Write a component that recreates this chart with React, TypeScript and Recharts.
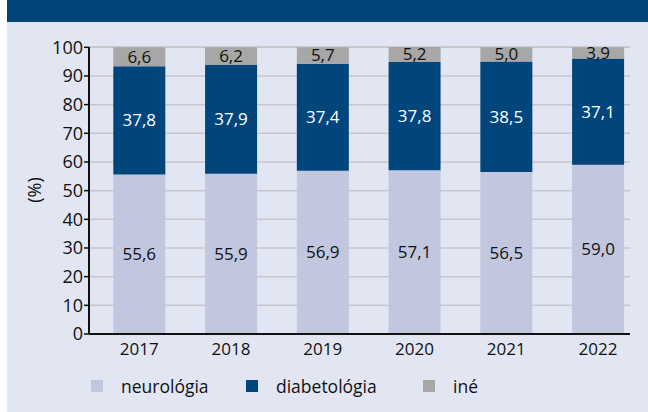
import { BarChart, Bar, XAxis, YAxis, CartesianGrid, LabelList } from 'recharts';

const years = [2017, 2018, 2019, 2020, 2021, 2022];
const neurologia = [55.6, 55.9, 56.9, 57.1, 56.5, 59.0];
const diabetologia = [37.8, 37.9, 37.4, 37.8, 38.5, 37.1];
const ine = [6.6, 6.2, 5.7, 5.2, 5.0, 3.9];
const yTicks = [0, 10, 20, 30, 40, 50, 60, 70, 80, 90, 100];

const data = years.map((year, i) => ({
  year,
  neurologia: neurologia[i],
  diabetologia: diabetologia[i],
  ine: ine[i],
}));

const FONT = '"Open Sans", "Noto Sans", sans-serif';
const fmt = (v: any) => Number(v).toFixed(1).replace('.', ',');

const legend = [
  { name: 'neurológia', color: '#c0c7df', x: 91 },
  { name: 'diabetológia', color: '#00457c', x: 246 },
  { name: 'iné', color: '#a7a7a7', x: 423 },
];

export default function App() {
  return (
    <div style={{ position: 'absolute', left: 0, top: 0, width: 648, height: 412, background: '#fff', fontFamily: FONT }}>
      <div style={{ position: 'absolute', left: 7, top: 0, width: 641, height: 22, background: '#00447a' }} />
      <div style={{ position: 'absolute', left: 7, top: 22, width: 641, height: 390, background: '#e2e6f2' }} />
      <div style={{ position: 'absolute', left: 0, top: 0 }}>
        <BarChart width={648} height={412} data={data} margin={{ top: 47, right: 18, bottom: 48, left: 29 }}>
          <CartesianGrid vertical={false} stroke="#c6c7cc" strokeWidth={1.5} />
          <XAxis
            dataKey="year"
            type="number"
            domain={[2016.453, 2022.349]}
            ticks={years}
            allowDataOverflow
            height={30}
            tickSize={0}
            tickMargin={9}
            axisLine={{ stroke: '#111', strokeWidth: 2 }}
            tickLine={false}
            tick={{ fill: '#111', fontSize: 17, fontFamily: FONT }}
          />
          <YAxis
            domain={[0, 100]}
            ticks={yTicks}
            width={60}
            tickSize={5}
            tickMargin={1}
            axisLine={{ stroke: '#111', strokeWidth: 2 }}
            tickLine={{ stroke: '#111', strokeWidth: 1.5 }}
            tick={{ fill: '#111', fontSize: 18, fontFamily: FONT }}
          />
          <Bar dataKey="neurologia" stackId="a" fill="#c0c7df" barSize={52} isAnimationActive={false}>
            <LabelList dataKey="neurologia" position="center" formatter={fmt} fill="#111" fontSize={17} fontFamily={FONT} />
          </Bar>
          <Bar dataKey="diabetologia" stackId="a" fill="#00457c" barSize={52} isAnimationActive={false}>
            <LabelList dataKey="diabetologia" position="center" formatter={fmt} fill="#fff" fontSize={17} fontFamily={FONT} />
          </Bar>
          <Bar dataKey="ine" stackId="a" fill="#a7a7a7" barSize={52} isAnimationActive={false}>
            <LabelList dataKey="ine" position="center" formatter={fmt} fill="#111" fontSize={17} fontFamily={FONT} />
          </Bar>
        </BarChart>
      </div>
      <div
        style={{
          position: 'absolute',
          left: 34,
          top: 190,
          transform: 'translate(-50%, -50%) rotate(-90deg)',
          fontSize: 18,
          color: '#111',
          whiteSpace: 'nowrap',
        }}
      >
        (%)
      </div>
      {legend.map((l) => (
        <div key={l.name} style={{ position: 'absolute', left: l.x, top: 380, display: 'flex', alignItems: 'center', height: 12 }}>
          <div style={{ width: 12, height: 12, background: l.color }} />
          <span style={{ marginLeft: 18, fontSize: 17.5, color: '#111', lineHeight: '12px' }}>{l.name}</span>
        </div>
      ))}
    </div>
  );
}
